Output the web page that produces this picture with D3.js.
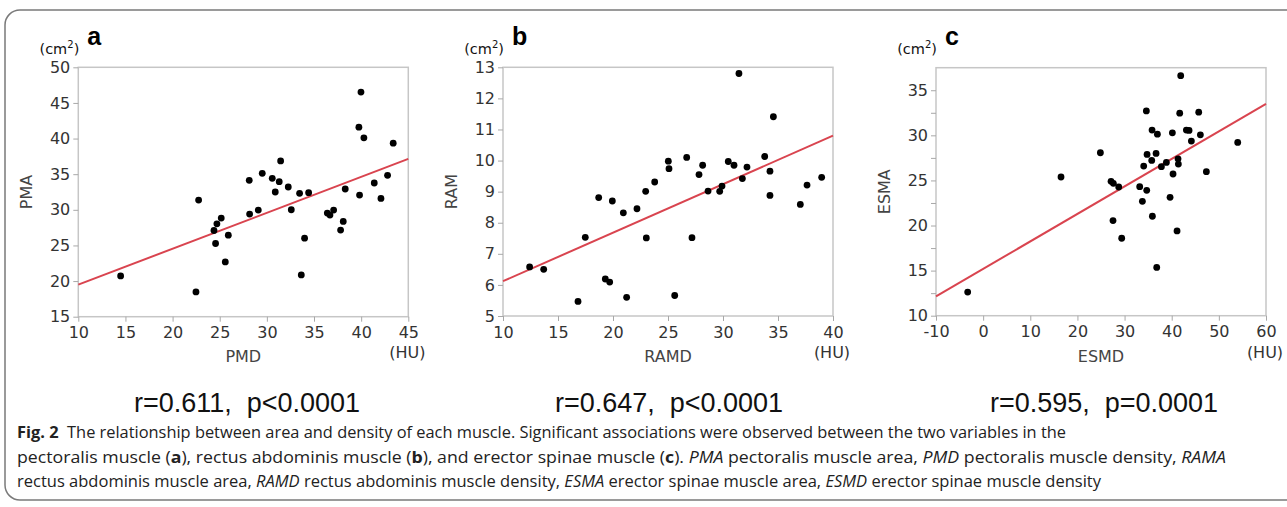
<!DOCTYPE html>
<html><head><meta charset="utf-8">
<script src="https://cdn.jsdelivr.net/npm/d3@7"></script>
<style>
html,body{margin:0;padding:0;background:#fff;}
svg{display:block;}
</style></head>
<body>
<svg id="chart" width="1287" height="507"></svg>
<script>
// ---------- DATA ----------
const pmd = [14.49,22.48,22.76,24.39,24.56,24.70,25.16,25.91,25.59,28.13,28.17,29.09,29.51,30.57,30.89,31.31,31.46,32.27,32.59,33.47,33.65,34.00,34.43,36.41,36.69,37.08,37.82,38.10,38.31,39.83,39.76,39.98,40.29,41.39,42.10,42.80,43.40];
const pma = [20.72,18.47,31.37,27.10,25.27,28.04,28.84,26.44,22.69,34.14,29.40,29.96,35.12,34.42,32.50,33.95,36.86,33.20,30.01,32.31,20.86,26.02,32.40,29.54,29.26,29.96,27.15,28.37,32.92,32.07,41.60,46.53,40.10,33.76,31.60,34.84,39.35];
const pmaFitX = [10,45];
const pmaFitY = [19.50,37.14];

const ramd = [12.42,13.70,16.82,17.48,18.70,19.30,19.70,19.94,20.94,21.24,22.18,22.97,23.03,23.79,25.03,25.09,25.61,26.70,27.18,27.82,28.15,28.64,29.70,29.91,30.48,31.00,31.45,31.76,32.18,33.79,34.27,34.27,34.58,37.03,37.64,38.97];
const ram = [6.58,6.50,5.47,7.53,8.81,6.19,6.09,8.70,8.32,5.60,8.45,9.01,7.51,9.31,9.98,9.74,5.66,10.10,7.52,9.55,9.85,9.02,9.01,9.18,9.97,9.85,12.80,9.42,9.79,10.13,9.66,8.88,11.41,8.59,9.21,9.46];
const ramFitX = [10,40];
const ramFitY = [6.12,10.80];

const esmd = [-3.28,16.52,24.87,27.13,27.62,27.55,28.76,29.39,33.21,33.78,34.06,34.62,34.70,34.77,35.76,35.83,35.90,36.68,36.82,36.96,37.81,38.87,39.65,40.14,40.28,41.13,41.34,41.41,41.70,41.91,43.11,43.68,44.17,45.73,46.08,47.35,54.00];
const esma = [12.62,25.38,28.07,24.90,24.68,20.55,24.27,18.59,24.31,22.68,26.59,32.71,23.90,27.88,27.22,30.58,21.03,27.99,15.35,30.13,26.52,27.00,23.13,30.28,25.71,19.40,27.40,26.81,32.46,36.62,30.58,30.54,29.36,32.57,30.06,25.97,29.21];
const esmaFitX = [-10,60];
const esmaFitY = [12.14,33.49];

const ticksAX = [10,15,20,25,30,35,40,45];
const ticksAY = [15,20,25,30,35,40,45,50];
const ticksBX = [10,15,20,25,30,35,40];
const ticksBY = [5,6,7,8,9,10,11,12,13];
const ticksCX = [-10,0,10,20,30,40,50,60];
const ticksCY = [10,15,20,25,30,35];
const minorCY = [12.5,17.5,22.5,27.5,32.5];

const letters = ["a","b","c"];
const xTitles = ["PMD","RAMD","ESMD"];
const yTitles = ["PMA","RAM","ESMA"];
const stats = ["r=0.611,  p<0.0001","r=0.647,  p<0.0001","r=0.595,  p=0.0001"];

// ---------- LAYOUT ----------
const svg = d3.select("#chart");
const tickFont = "'DejaVu Sans', Verdana, sans-serif";

// outer rounded border
svg.append("rect").attr("x",5).attr("y",10).attr("width",1330).attr("height",490)
  .attr("rx",15).attr("ry",15).attr("fill","none").attr("stroke","#7a7a7a").attr("stroke-width",1.5);

const panels = [
  {x:pmd,y:pma,fx:pmaFitX,fy:pmaFitY,xd:[10,45],yd:[15,50],xt:ticksAX,yt:ticksAY,minor:[],left:78.3,right:408.3,top:67.3,bottom:316.7,statX:247},
  {x:ramd,y:ram,fx:ramFitX,fy:ramFitY,xd:[10,40],yd:[5,13],xt:ticksBX,yt:ticksBY,minor:[],left:503,right:833,top:67.3,bottom:316,statX:669},
  {x:esmd,y:esma,fx:esmaFitX,fy:esmaFitY,xd:[-10,60],yd:[10,37.5],xt:ticksCX,yt:ticksCY,minor:minorCY,left:936,right:1266,top:67.7,bottom:315.7,statX:1104}
];

panels.forEach((p,i)=>{
  const xs = d3.scaleLinear().domain(p.xd).range([p.left,p.right]);
  const ys = d3.scaleLinear().domain(p.yd).range([p.bottom,p.top]);
  const g = svg.append("g");

  // frame
  g.append("rect").attr("x",p.left).attr("y",p.top).attr("width",p.right-p.left).attr("height",p.bottom-p.top)
    .attr("fill","none").attr("stroke","#c6c6c6").attr("stroke-width",1.5);

  // axes
  const fmt = d=>String(d);
  const ax = g.append("g").attr("transform",`translate(0,${p.bottom})`)
    .call(d3.axisBottom(xs).tickValues(p.xt).tickSize(5).tickPadding(3).tickFormat(fmt));
  const ay = g.append("g").attr("transform",`translate(${p.left},0)`)
    .call(d3.axisLeft(ys).tickValues(p.yt).tickSize(5).tickPadding(3).tickFormat(fmt));
  if (p.minor.length) {
    g.append("g").attr("transform",`translate(${p.left},0)`)
      .call(d3.axisLeft(ys).tickValues(p.minor).tickSize(5).tickFormat(""))
      .call(s=>s.select(".domain").remove())
      .selectAll("line").attr("stroke","#a8a8a8");
  }
  [ax,ay].forEach(a=>{
    a.select(".domain").remove();
    a.selectAll("line").attr("stroke","#a8a8a8");
    a.selectAll("text").attr("fill","#333").style("font-family",tickFont).style("font-size","16px");
  });
  ax.selectAll("text").attr("dy","0.85em");

  // fit line
  const line = d3.line().x(d=>xs(d[0])).y(d=>ys(d[1]));
  g.append("path").datum(d3.zip(p.fx,p.fy)).attr("d",line)
    .attr("fill","none").attr("stroke","#d9444f").attr("stroke-width",2);

  // points
  g.selectAll("circle").data(d3.zip(p.x,p.y)).join("circle")
    .attr("cx",d=>xs(d[0])).attr("cy",d=>ys(d[1])).attr("r",3.4).attr("fill","#000");

  // y unit (cm2)
  const cm = g.append("text").attr("x",p.left+1).attr("y",53.5).attr("text-anchor","end")
    .style("font-family",tickFont).style("font-size","14.5px").attr("fill","#111");
  cm.append("tspan").text("(cm");
  cm.append("tspan").attr("dy",-6).style("font-size","10px").text("2");
  cm.append("tspan").attr("dy",6).text(")");

  // panel letter
  g.append("text").attr("x",p.left+9).attr("y",45).text(letters[i])
    .style("font-family","'Liberation Sans', Arial, sans-serif").style("font-weight","bold").style("font-size","25px").attr("fill","#000");

  // x unit (HU)
  g.append("text").attr("x",p.right-1).attr("y",358).attr("text-anchor","middle").text("(HU)")
    .style("font-family",tickFont).style("font-size","16px").attr("fill","#333");

  // axis titles
  g.append("text").attr("x",(p.left+p.right)/2).attr("y",362).attr("text-anchor","middle").text(xTitles[i])
    .style("font-family",tickFont).style("font-size","16px").attr("fill","#444");
  g.append("text").attr("transform",`translate(${p.left-46},${(p.top+p.bottom)/2}) rotate(-90)`)
    .attr("text-anchor","middle").text(yTitles[i])
    .style("font-family",tickFont).style("font-size","16px").attr("fill","#444");

  // stats
  g.append("text").attr("x",p.statX).attr("y",412).attr("text-anchor","middle").text(stats[i])
    .style("font-family","'Liberation Sans', Arial, sans-serif").style("font-size","27px").attr("fill","#111")
    .style("white-space","pre").attr("xml:space","preserve");
});

// caption
const capFont = "'Open Sans', 'Noto Sans', sans-serif";
const capLines = [
  {y:438, w:1049, parts:[["Fig. 2","b"],["  The relationship between area and density of each muscle. Significant associations were observed between the two variables in the",""]]},
  {y:463, w:1209, parts:[["pectoralis muscle (",""],["a","b"],["), rectus abdominis muscle (",""],["b","b"],["), and erector spinae muscle (",""],["c","b"],["). ",""],["PMA","i"],[" pectoralis muscle area, ",""],["PMD","i"],[" pectoralis muscle density, ",""],["RAMA","i"]]},
  {y:487, w:1084, parts:[["rectus abdominis muscle area, ",""],["RAMD","i"],[" rectus abdominis muscle density, ",""],["ESMA","i"],[" erector spinae muscle area, ",""],["ESMD","i"],[" erector spinae muscle density",""]]}
];
capLines.forEach(l=>{
  const t = svg.append("text").attr("x",17).attr("y",l.y).attr("xml:space","preserve")
    .style("font-family",capFont).style("font-size","16.5px").attr("fill","#222")
    .attr("textLength",l.w).attr("lengthAdjust","spacingAndGlyphs");
  l.parts.forEach(pt=>{
    const s = t.append("tspan").text(pt[0]);
    if (pt[1]==="b") s.style("font-weight","bold");
    if (pt[1]==="i") s.style("font-style","italic");
  });
});
</script>
</body></html>
